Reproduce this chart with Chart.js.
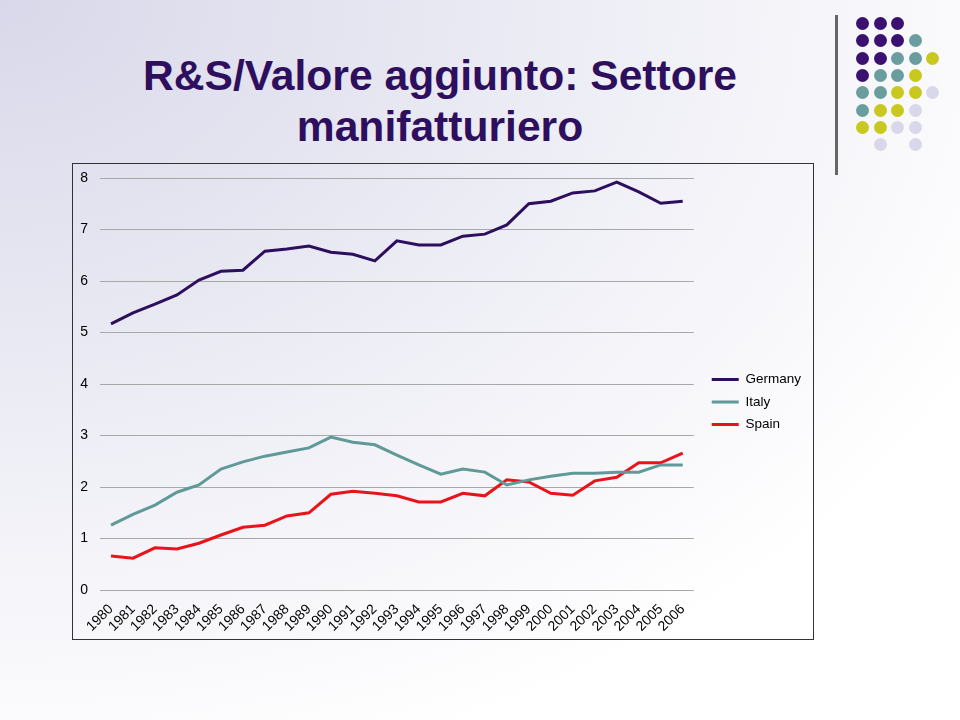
<!DOCTYPE html>
<html>
<head>
<meta charset="utf-8">
<script src="https://cdn.jsdelivr.net/npm/chart.js@4"></script>
<style>
  html, body { margin: 0; padding: 0; }
  body {
    width: 960px; height: 720px; position: relative; overflow: hidden;
    background: radial-gradient(ellipse 1100px 800px at 0 0, #d8d8ea 0%, #eeeef6 55%, #ffffff 100%);
    font-family: "Liberation Sans", Arial, sans-serif;
  }
  #title {
    position: absolute; left: 90px; top: 50px; width: 700px;
    text-align: center; color: #2e0f5e; font-size: 42.6px; font-weight: bold; line-height: 51px;
  }
  #vline { position: absolute; left: 835px; top: 15px; width: 3px; height: 160px; background: #666; }
  .dot { position: absolute; width: 13px; height: 13px; border-radius: 50%; }
  #box {
    position: absolute; left: 72px; top: 163px; width: 740px; height: 475px;
    border: 1px solid #333;
  }
</style>
</head>
<body>
<div id="title">R&amp;S/Valore aggiunto: Settore<br>manifatturiero</div>
<div id="vline"></div>
<div id="dots"></div>
<div id="box"><canvas id="chart" width="740" height="475"></canvas></div>
<script>
const years = ["1980","1981","1982","1983","1984","1985","1986","1987","1988","1989",
  "1990","1991","1992","1993","1994","1995","1996","1997","1998","1999",
  "2000","2001","2002","2003","2004","2005","2006"];

const germany = [5.17, 5.38, 5.55, 5.73, 6.02, 6.19, 6.21, 6.58, 6.62, 6.68,
  6.56, 6.52, 6.39, 6.78, 6.70, 6.70, 6.87, 6.91, 7.09, 7.50,
  7.55, 7.71, 7.75, 7.92, 7.73, 7.51, 7.55];

const italy = [1.26, 1.47, 1.65, 1.90, 2.04, 2.35, 2.49, 2.60, 2.68, 2.76,
  2.97, 2.87, 2.82, 2.62, 2.43, 2.25, 2.35, 2.29, 2.04, 2.14,
  2.21, 2.27, 2.27, 2.29, 2.29, 2.43, 2.43];

const spain = [0.66, 0.62, 0.82, 0.80, 0.91, 1.07, 1.22, 1.26, 1.44, 1.50,
  1.86, 1.92, 1.88, 1.83, 1.71, 1.71, 1.88, 1.83, 2.14, 2.10,
  1.88, 1.84, 2.12, 2.19, 2.47, 2.47, 2.66];

// decorative dot grid, top right
const dotColors = { P: "#3a1070", T: "#6a9e9e", Y: "#c8c81e", L: "#d8d8ea" };
const dotRows = ["PPP", "PPPT", "PPTTY", "PTTY", "TTYYL", "TYYL", "YYLL", " L L"];
const dotsEl = document.getElementById("dots");
dotRows.forEach((row, r) => {
  [...row].forEach((c, i) => {
    if (c === " ") return;
    const d = document.createElement("div");
    d.className = "dot";
    d.style.left = (856 + i * 17.5) + "px";
    d.style.top = (17 + r * 17.3) + "px";
    d.style.background = dotColors[c];
    dotsEl.appendChild(d);
  });
});

const font = { family: "Liberation Sans", size: 14 };

const ctx = document.getElementById("chart").getContext("2d");
new Chart(ctx, {
  type: "line",
  data: {
    labels: years,
    datasets: [
      { label: "Germany", data: germany, borderColor: "#2e0f5e", backgroundColor: "#2e0f5e", borderWidth: 3 },
      { label: "Italy", data: italy, borderColor: "#5f9a98", backgroundColor: "#5f9a98", borderWidth: 3 },
      { label: "Spain", data: spain, borderColor: "#e8141a", backgroundColor: "#e8141a", borderWidth: 3 },
    ],
  },
  options: {
    responsive: false,
    animation: false,
    layout: { padding: { top: 2, left: 7, right: 2, bottom: 1 } },
    elements: {
      line: { tension: 0 },
      point: { radius: 0 },
    },
    scales: {
      x: {
        offset: true,
        grid: { display: false },
        border: { display: false },
        ticks: {
          color: "#000", font,
          maxRotation: 45, minRotation: 45,
          autoSkip: false,
          padding: 3,
        },
        // first rotated label may hang into the y axis area
        afterFit: (scale) => { scale.paddingLeft = 0; scale.paddingRight = 0; },
      },
      y: {
        min: 0, max: 8,
        grid: { color: "#a8a8a8", lineWidth: 1, drawTicks: false },
        border: { display: false },
        ticks: { stepSize: 1, color: "#000", font, padding: 12 },
        afterFit: (scale) => { scale.width = 20; scale.paddingTop = 14; scale.paddingBottom = 0; },
      },
      // empty spacer between plot and legend
      gap: {
        position: "right",
        grid: { display: false },
        border: { display: false },
        ticks: { display: false },
        afterFit: (scale) => { scale.width = 9; },
      },
    },
    plugins: {
      legend: {
        position: "right",
        labels: {
          usePointStyle: true,
          pointStyle: "line",
          pointStyleWidth: 27,
          color: "#000",
          font: { family: "Liberation Sans", size: 13.5 },
          padding: 9,
        },
      },
      tooltip: { enabled: false },
    },
  },
});
</script>
</body>
</html>
